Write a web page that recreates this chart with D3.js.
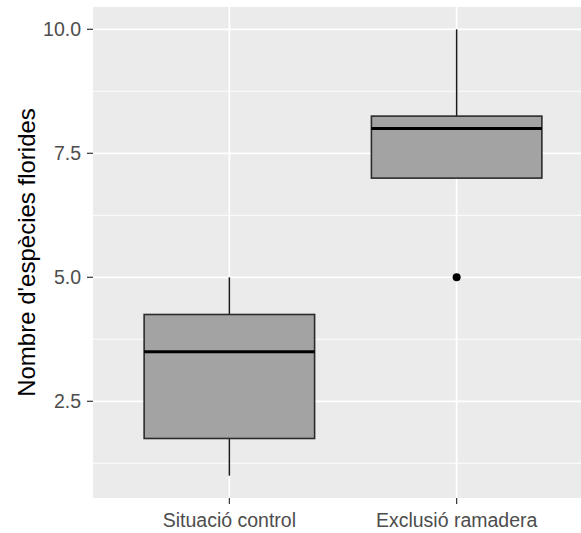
<!DOCTYPE html>
<html>
<head>
<meta charset="utf-8">
<script src="https://cdn.jsdelivr.net/npm/d3@7"></script>
<style>
  body { margin: 0; background: #fff; }
  svg text { font-family: "Liberation Sans", Arial, sans-serif; }
</style>
</head>
<body>
<svg id="chart" width="581" height="533"></svg>
<script>
// data
const groups = ["Situació control", "Exclusió ramadera"];
const whiskerLow = [1.0, 7.0];
const q1 = [1.75, 7.0];
const median = [3.5, 8.0];
const q3 = [4.25, 8.25];
const whiskerHigh = [5.0, 10.0];
const outliers = [[], [5.0]];
const yTicks = [2.5, 5.0, 7.5, 10.0];
const yMinor = [1.25, 3.75, 6.25, 8.75];

const svg = d3.select("#chart");
const pLeft = 93, pRight = 593, pTop = 7, pBottom = 498;

const x = d3.scaleLinear().domain([0.4, 2.6]).range([pLeft, pRight]);
const y = d3.scaleLinear().domain([0.55, 10.45]).range([pBottom, pTop]);

svg.append("clipPath").attr("id", "clip")
  .append("rect").attr("x", pLeft).attr("y", pTop).attr("width", pRight - pLeft).attr("height", pBottom - pTop);

const panel = svg.append("g").attr("clip-path", "url(#clip)");
panel.append("rect")
  .attr("x", pLeft).attr("y", pTop)
  .attr("width", pRight - pLeft).attr("height", pBottom - pTop)
  .attr("fill", "#ebebeb");

// grid
panel.selectAll(".minor").data(yMinor).enter().append("line")
  .attr("x1", pLeft).attr("x2", pRight)
  .attr("y1", d => y(d)).attr("y2", d => y(d))
  .attr("stroke", "#fff").attr("stroke-width", 0.9);
panel.selectAll(".major").data(yTicks).enter().append("line")
  .attr("x1", pLeft).attr("x2", pRight)
  .attr("y1", d => y(d)).attr("y2", d => y(d))
  .attr("stroke", "#fff").attr("stroke-width", 1.7);
panel.selectAll(".vmajor").data(groups).enter().append("line")
  .attr("x1", (d, i) => x(i + 1)).attr("x2", (d, i) => x(i + 1))
  .attr("y1", pTop).attr("y2", pBottom)
  .attr("stroke", "#fff").attr("stroke-width", 1.7);

// boxes
const halfW = 0.375;
const boxes = panel.selectAll(".box").data(groups).enter().append("g");
boxes.append("line")
  .attr("x1", (d, i) => x(i + 1)).attr("x2", (d, i) => x(i + 1))
  .attr("y1", (d, i) => y(whiskerHigh[i])).attr("y2", (d, i) => y(q3[i]))
  .attr("stroke", "#1a1a1a").attr("stroke-width", 1.5);
boxes.append("line")
  .attr("x1", (d, i) => x(i + 1)).attr("x2", (d, i) => x(i + 1))
  .attr("y1", (d, i) => y(whiskerLow[i])).attr("y2", (d, i) => y(q1[i]))
  .attr("stroke", "#1a1a1a").attr("stroke-width", 1.5);
boxes.append("rect")
  .attr("x", (d, i) => x(i + 1 - halfW))
  .attr("width", (d, i) => x(i + 1 + halfW) - x(i + 1 - halfW))
  .attr("y", (d, i) => y(q3[i]))
  .attr("height", (d, i) => y(q1[i]) - y(q3[i]))
  .attr("fill", "#a3a3a3").attr("stroke", "#2b2b2b").attr("stroke-width", 1.6);
boxes.append("line")
  .attr("x1", (d, i) => x(i + 1 - halfW)).attr("x2", (d, i) => x(i + 1 + halfW))
  .attr("y1", (d, i) => y(median[i])).attr("y2", (d, i) => y(median[i]))
  .attr("stroke", "#000").attr("stroke-width", 3);
boxes.each(function(d, i) {
  d3.select(this).selectAll("circle").data(outliers[i]).enter().append("circle")
    .attr("cx", x(i + 1)).attr("cy", v => y(v)).attr("r", 4).attr("fill", "#000");
});

// y axis
const yAxis = svg.append("g");
yAxis.selectAll("line").data(yTicks).enter().append("line")
  .attr("x1", pLeft - 6).attr("x2", pLeft)
  .attr("y1", d => y(d)).attr("y2", d => y(d))
  .attr("stroke", "#333").attr("stroke-width", 1.2);
yAxis.selectAll("text").data(yTicks).enter().append("text")
  .attr("x", pLeft - 12).attr("y", d => y(d))
  .attr("dy", "0.36em").attr("text-anchor", "end")
  .attr("font-size", 19.5).attr("fill", "#4d4d4d")
  .text(d3.format(".1f"));

// x axis
const xAxis = svg.append("g");
xAxis.selectAll("line").data(groups).enter().append("line")
  .attr("x1", (d, i) => x(i + 1)).attr("x2", (d, i) => x(i + 1))
  .attr("y1", pBottom).attr("y2", pBottom + 6)
  .attr("stroke", "#333").attr("stroke-width", 1.2);
xAxis.selectAll("text").data(groups).enter().append("text")
  .attr("x", (d, i) => x(i + 1)).attr("y", pBottom + 22)
  .attr("dy", "0.36em").attr("text-anchor", "middle")
  .attr("font-size", 19.5).attr("fill", "#4d4d4d")
  .text(d => d);

svg.append("text")
  .attr("transform", `translate(35,${(pTop + pBottom) / 2}) rotate(-90)`)
  .attr("text-anchor", "middle")
  .attr("font-size", 24).attr("fill", "#000")
  .text("Nombre d'espècies florides");
</script>
</body>
</html>
